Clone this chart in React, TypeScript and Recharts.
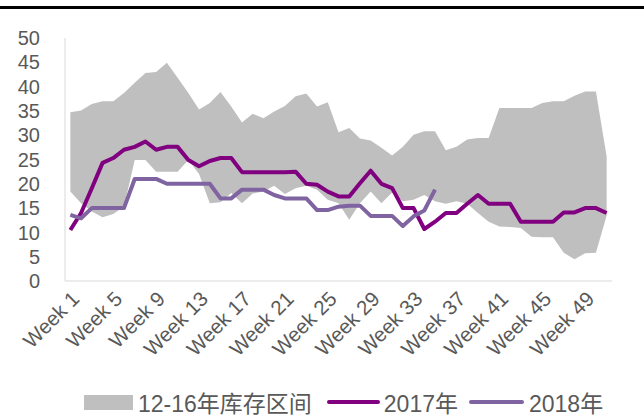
import React from 'react';
import { ComposedChart, Area, Line, XAxis, YAxis, Legend } from 'recharts';

const weeks: string[] = Array.from({ length: 51 }, (_, i) => `Week ${i + 1}`);

const rangeLow: number[] = [
  18.4, 16.0, 14.3, 13.1, 13.8, 15.3, 24.9, 24.9, 22.5, 22.5,
  22.5, 24.9, 22.0, 16.0, 16.2, 18.1, 16.0, 18.0, 18.4, 19.6,
  17.9, 19.1, 19.6, 18.8, 16.7, 16.0, 12.6, 16.0, 18.4, 16.0,
  18.2, 16.4, 16.7, 17.7, 16.4, 15.9, 16.4, 15.9, 14.0, 12.2,
  11.2, 11.1, 10.9, 9.1, 9.0, 9.0, 5.8, 4.5, 5.7, 5.8,
  13.5,
];

const rangeHigh: number[] = [
  34.7, 35.1, 36.4, 37.0, 37.0, 38.7, 40.8, 42.8, 43.0, 44.9,
  41.8, 38.7, 35.3, 36.6, 38.9, 35.9, 32.6, 34.4, 33.5, 34.9,
  36.0, 38.0, 38.6, 35.9, 36.8, 30.6, 31.5, 29.3, 28.9, 27.4,
  25.8, 27.6, 30.1, 30.8, 30.8, 26.9, 27.6, 29.1, 29.4, 29.4,
  35.6, 35.6, 35.6, 35.6, 36.6, 37.0, 37.0, 38.1, 39.0, 39.0,
  25.6,
];

const y2017: number[] = [
  10.5, 14.0, 19.1, 24.3, 25.3, 27.0, 27.6, 28.7, 27.0, 27.6,
  27.6, 24.9, 23.6, 24.7, 25.3, 25.3, 22.4, 22.4, 22.4, 22.4,
  22.4, 22.5, 20.0, 19.8, 18.4, 17.4, 17.4, 20.1, 22.7, 20.0,
  19.1, 15.0, 15.0, 10.7, 12.2, 14.0, 14.0, 15.9, 17.7, 15.9,
  15.9, 15.9, 12.2, 12.2, 12.2, 12.2, 14.1, 14.1, 15.0, 15.0,
  14.0,
];

const y2018: number[] = [
  13.6, 12.9, 15.0, 15.0, 15.0, 15.0, 21.0, 21.0, 21.0, 20.0,
  20.0, 20.0, 20.0, 20.0, 17.0, 17.0, 18.8, 18.8, 18.8, 17.7,
  17.0, 17.0, 17.0, 14.6, 14.6, 15.3, 15.5, 15.5, 13.4, 13.4,
  13.4, 11.3, 13.3, 14.5, 18.8,
];

const yTicks: number[] = [0, 5, 10, 15, 20, 25, 30, 35, 40, 45, 50];
const boundaryTicks: number[] = Array.from({ length: 52 }, (_, i) => i);

const seriesNames = ['12-16年库存区间', '2017年', '2018年'];
const seriesColors = ['#BFBFBF', '#800080', '#8064A2'];

const data = weeks.map((w, i) => ({
  week: w,
  range: [rangeLow[i], rangeHigh[i]],
  s2017: y2017[i],
  s2018: i < y2018.length ? y2018[i] : null,
}));

const FONT = '"Liberation Sans", "Noto Sans CJK SC", sans-serif';
const TEXT = '#595959';
const AXIS = '#D9D9D9';

const renderLegend = () => (
  <div
    style={{
      display: 'flex',
      alignItems: 'center',
      height: 24,
      paddingLeft: 84,
      fontFamily: FONT,
      fontSize: 23,
      color: TEXT,
      whiteSpace: 'nowrap',
    }}
  >
    <span style={{ display: 'inline-block', width: 49, height: 15, background: seriesColors[0], marginRight: 5 }} />
    <span>{seriesNames[0]}</span>
    <span style={{ display: 'inline-block', width: 53, height: 4, borderRadius: 2, background: seriesColors[1], margin: '0 4px 0 15px' }} />
    <span>{seriesNames[1]}</span>
    <span style={{ display: 'inline-block', width: 55, height: 4, borderRadius: 2, background: seriesColors[2], margin: '0 5px 0 11px' }} />
    <span>{seriesNames[2]}</span>
  </div>
);

export default function App() {
  return (
    <div style={{ position: 'absolute', left: 0, top: 0, width: 644, height: 416, background: '#fff', overflow: 'hidden' }}>
      <div style={{ position: 'absolute', left: 0, top: 6, width: 644, height: 3, background: '#000' }} />
      <ComposedChart
        width={644}
        height={416}
        data={data}
        margin={{ top: 38, right: 32, left: 5, bottom: 2 }}
      >
        <XAxis
          xAxisId="t"
          type="number"
          domain={[0, 51]}
          ticks={boundaryTicks}
          tick={false}
          tickSize={5}
          tickLine={{ stroke: AXIS }}
          axisLine={{ stroke: AXIS }}
          height={5}
        />
        <XAxis
          xAxisId="w"
          dataKey="week"
          interval={3}
          padding={{ left: 5.35, right: 5.35 }}
          axisLine={false}
          tickLine={false}
          tickSize={0}
          tickMargin={4}
          height={104}
          angle={-45}
          textAnchor="end"
          tick={{ fontSize: 20.5, fill: TEXT, fontFamily: FONT }}
        />
        <YAxis
          type="number"
          domain={[0, 50]}
          ticks={yTicks}
          interval={0}
          width={60}
          axisLine={{ stroke: AXIS }}
          tickLine={false}
          tickSize={0}
          tickMargin={25}
          tick={{ fontSize: 20, fill: TEXT, fontFamily: FONT }}
        />
        <Legend verticalAlign="bottom" content={renderLegend} wrapperStyle={{ left: 0, width: 644 }} />
        <Area
          xAxisId="w"
          dataKey="range"
          name={seriesNames[0]}
          stroke="none"
          fill={seriesColors[0]}
          fillOpacity={1}
          isAnimationActive={false}
        />
        <Line
          xAxisId="w"
          dataKey="s2017"
          name={seriesNames[1]}
          stroke={seriesColors[1]}
          strokeWidth={4}
          dot={false}
          strokeLinejoin="round"
          isAnimationActive={false}
        />
        <Line
          xAxisId="w"
          dataKey="s2018"
          name={seriesNames[2]}
          stroke={seriesColors[2]}
          strokeWidth={4}
          dot={false}
          strokeLinejoin="round"
          isAnimationActive={false}
        />
      </ComposedChart>
    </div>
  );
}
